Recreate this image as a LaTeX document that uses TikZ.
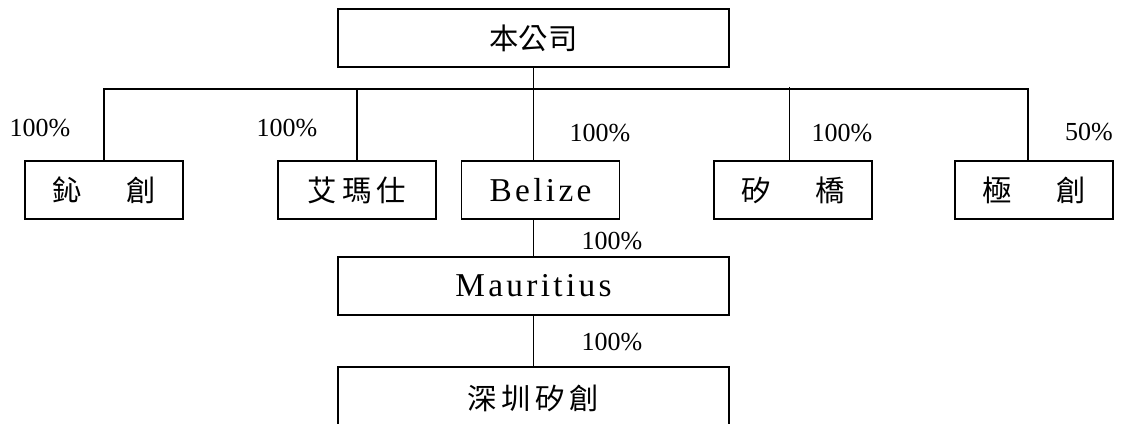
\documentclass[tikz,border=0pt]{standalone}
\usepackage{fontspec}
\setmainfont{Liberation Serif}
\newfontfamily\cjk{Noto Sans CJK TC}

\tikzset{
  unit/.style={draw, line width=1.2pt, inner sep=0pt, minimum height=43.5pt},
  wideunit/.style={unit, minimum width=293.25pt},
  smallunit/.style={unit, minimum width=118.5pt},
  hanzi/.style={font=\cjk\fontsize{22}{26}\selectfont},
  latin/.style={font=\fontsize{25}{30}\selectfont\addfontfeature{LetterSpace=10}},
  share/.style={font=\fontsize{19.5}{22}\selectfont, inner sep=0pt},
  link/.style={line width=1.1pt},
}

\begin{document}
\begin{tikzpicture}[x=0.75pt,y=0.75pt,yscale=-1]
\useasboundingbox (0,0) rectangle (1125,424);

% Parent
\node[wideunit, hanzi] (parent) at (533.5,38) {本公司};

% Subsidiaries
\node[smallunit, hanzi] (xinchuang) at (104,190) {鈊\hspace{33pt}創};
\node[smallunit, hanzi] (aimashi) at (357,190) {艾\hspace{4pt}瑪\hspace{4pt}仕};
\node[smallunit, latin] (belize) at (540.5,190) {Belize};
\node[smallunit, hanzi] (guiqiao) at (793,190) {矽\hspace{33pt}橋};
\node[smallunit, hanzi] (jichuang) at (1034,190) {極\hspace{33pt}創};

% Chain below Belize
\node[wideunit, latin] (mauritius) at (533.5,286) {Mauritius};
\node[wideunit, hanzi, minimum height=46.5pt] (shenzhen) at (533.5,398) {深\hspace{3.5pt}圳\hspace{3.5pt}矽\hspace{3.5pt}創};

% Bus
\coordinate (busend) at (1028,89);
\coordinate (guiqiaotop) at (789.5,87);

\draw[link] (parent.south) -- (parent.south |- belize.north);
\draw[link] (xinchuang.north) |- (busend) -- (busend |- jichuang.north);
\draw[link] (aimashi.north) -- (aimashi.north |- busend);
\draw[link] (guiqiaotop) -- (guiqiaotop |- guiqiao.north);
\draw[link] (parent.south |- belize.south) -- (mauritius.north);
\draw[link] (mauritius.south) -- (shenzhen.north);

% Shares
\node[share] (sharexc) at (40,128) {100\%};
\node[share] (shaream) at (287,128) {100\%};
\node[share] (sharebz) at (600,133) {100\%};
\node[share] (sharegq) at (842,133) {100\%};
\node[share] (sharejc) at (1089,132) {50\%};
\node[share] (sharemu) at (612,241) {100\%};
\node[share] (sharesz) at (612,342) {100\%};

\end{tikzpicture}
\end{document}
